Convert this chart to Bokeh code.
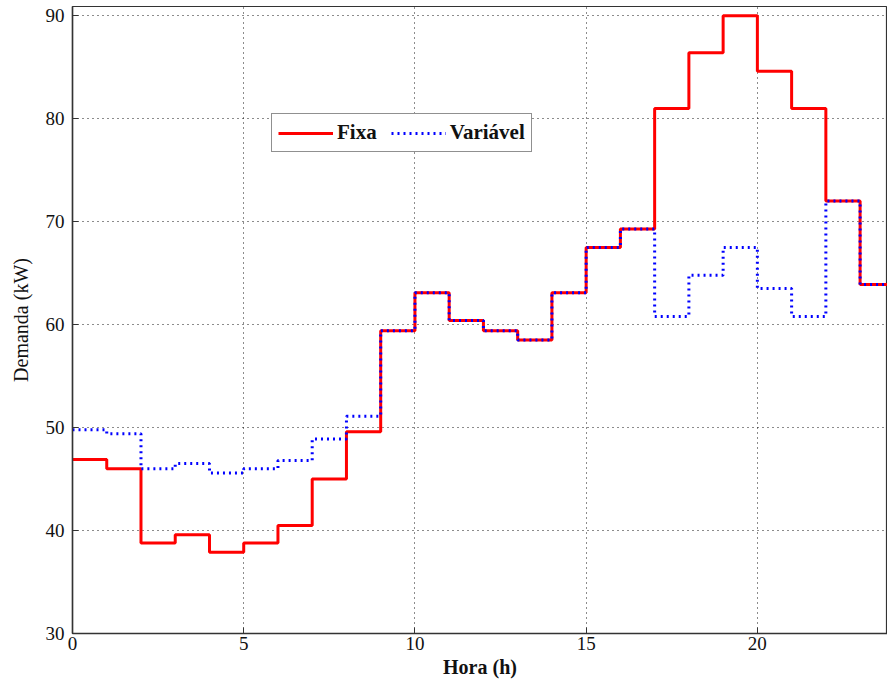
from bokeh.plotting import figure
from bokeh.models import Range1d, Legend, LegendItem, FixedTicker
from bokeh.embed import file_html
from bokeh.resources import INLINE

hours = list(range(25))
fixa = [46.9, 46.0, 38.8, 39.6, 37.9, 38.8, 40.5, 45.0, 49.6, 59.4, 63.1, 60.4,
        59.4, 58.5, 63.1, 67.5, 69.3, 81.0, 86.4, 90.0, 84.6, 81.0, 72.0, 63.9]
variavel = [49.8, 49.4, 46.0, 46.5, 45.6, 46.0, 46.8, 48.9, 51.1, 59.4, 63.1, 60.4,
            59.4, 58.5, 63.1, 67.5, 69.3, 60.8, 64.8, 67.5, 63.5, 60.8, 72.0, 63.9]
x_ticks = [0, 5, 10, 15, 20]
y_ticks = [30, 40, 50, 60, 70, 80, 90]

FONT = "Liberation Serif"

p = figure(frame_width=815, frame_height=627, output_backend="svg",
           toolbar_location=None, x_range=Range1d(0, 23.8), y_range=Range1d(30, 90.9),
           min_border_left=72, min_border_right=0, min_border_top=6, min_border_bottom=45)

p.background_fill_color = "white"
p.border_fill_color = "white"
p.outline_line_color = "#333333"
p.outline_line_width = 1.2

r_fixa = p.step(hours, fixa + [fixa[-1]], mode="after", line_color="#ff0000", line_width=3)
r_var = p.step(hours, variavel + [variavel[-1]], mode="after", line_color="#0000ff",
               line_width=3, line_dash="2 4", line_cap="butt")

for ax in (p.xaxis[0], p.yaxis[0]):
    ax.axis_line_color = "#333333"
    ax.axis_line_width = 1.5
    ax.major_tick_in = 6
    ax.major_tick_out = 0
    ax.major_tick_line_color = "#333333"
    ax.minor_tick_line_color = None
    ax.major_label_text_font = FONT
    ax.major_label_text_font_size = "19px"
    ax.major_label_text_color = "#111111"
    ax.axis_label_text_font = FONT
    ax.axis_label_text_font_size = "20px"
    ax.axis_label_text_font_style = "normal"
    ax.axis_label_text_color = "#111111"

p.xaxis.ticker = FixedTicker(ticks=x_ticks)
p.yaxis.ticker = FixedTicker(ticks=y_ticks)
p.xaxis.axis_label = "Hora (h)"
p.xaxis.axis_label_text_font_style = "bold"
p.yaxis.axis_label = "Demanda (kW)"
p.xaxis.major_label_standoff = 3
p.xaxis.axis_label_standoff = 3
p.yaxis.major_label_standoff = 8
p.yaxis.axis_label_standoff = 11

p.xgrid.ticker = FixedTicker(ticks=x_ticks)
p.ygrid.ticker = FixedTicker(ticks=y_ticks)
for g in (p.xgrid[0], p.ygrid[0]):
    g.grid_line_color = "#000000"
    g.grid_line_dash = "1 4"
    g.grid_line_width = 1
    g.grid_line_alpha = 0.9

legend = Legend(items=[LegendItem(label="Fixa", renderers=[r_fixa]),
                       LegendItem(label="Variável", renderers=[r_var])],
                orientation="horizontal", location=(199, 481),
                glyph_width=55, glyph_height=20, label_standoff=4, spacing=14,
                padding=6, margin=0,
                label_text_font=FONT, label_text_font_size="21px",
                label_text_font_style="bold", label_text_color="#111111",
                border_line_color="#222222", border_line_width=1.5,
                background_fill_color="white", background_fill_alpha=1)
p.add_layout(legend, "center")

open("out.html", "w").write(file_html(p, INLINE))
